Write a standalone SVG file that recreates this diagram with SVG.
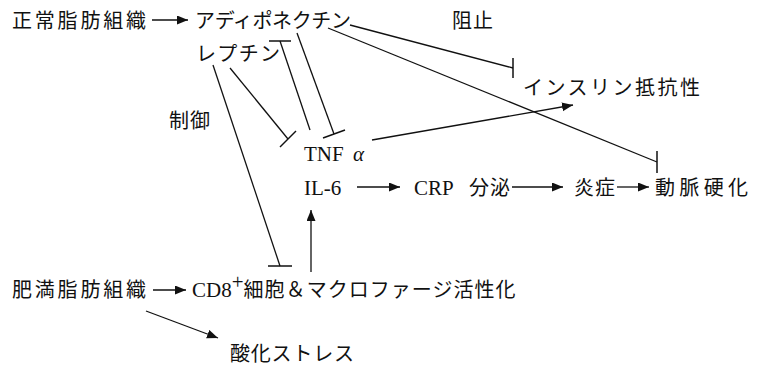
<svg xmlns="http://www.w3.org/2000/svg" width="760" height="372" viewBox="0 0 760 372">
<defs>
<style>
text{font-family:"Noto Sans CJK JP","Noto Sans",sans-serif;font-size:20px;fill:#111}
.lat{font-family:"Liberation Serif","DejaVu Serif",serif;font-size:21px}
.ln{stroke:#111;stroke-width:1.3;fill:none}
.bar{stroke:#111;stroke-width:1.5;fill:none}
</style>
<marker id="arr" markerUnits="userSpaceOnUse" markerWidth="12" markerHeight="10" refX="11" refY="4.5" orient="auto">
<path d="M0,0 L11,4.5 L0,9 z" fill="#111"/>
</marker>
</defs>
<rect width="760" height="372" fill="#fff"/>
<g id="seijo"><text x="12" y="28" textLength="134" lengthAdjust="spacing">正常脂肪組織</text></g>
<g id="adiponectin"><text x="195" y="28" textLength="156" lengthAdjust="spacing">アディポネクチン</text></g>
<g id="soshi"><text x="452" y="28" textLength="41" lengthAdjust="spacing">阻止</text></g>
<g id="leptin"><text x="196" y="61" textLength="84" lengthAdjust="spacing">レプチン</text></g>
<g id="insulin"><text x="523" y="95" textLength="177" lengthAdjust="spacing">インスリン抵抗性</text></g>
<g id="seigyo"><text x="169" y="128" textLength="41" lengthAdjust="spacing">制御</text></g>
<g id="tnf"><text x="304" y="161"><tspan class="lat">TNF</tspan><tspan class="lat" x="353" font-style="italic" font-size="22">α</tspan></text></g>
<g id="il6"><text x="304" y="195" class="lat">IL-6</text></g>
<g id="crp"><text x="414" y="195"><tspan class="lat" font-size="22">CRP</tspan><tspan x="469" textLength="41" lengthAdjust="spacing">分泌</tspan></text></g>
<g id="ensho"><text x="574" y="195" textLength="41" lengthAdjust="spacing">炎症</text></g>
<g id="domyaku"><text x="655" y="195" textLength="93" lengthAdjust="spacing">動脈硬化</text></g>
<g id="himan"><text x="12" y="297" textLength="134" lengthAdjust="spacing">肥満脂肪組織</text></g>
<g id="cd8"><text x="192" y="297"><tspan class="lat" font-size="22">CD8</tspan><tspan class="lat" font-size="13" dy="-8">+</tspan><tspan dy="8" textLength="272" lengthAdjust="spacing">細胞＆マクロファージ活性化</tspan></text></g>
<g id="sanka"><text x="230" y="361" textLength="124" lengthAdjust="spacing">酸化ストレス</text></g>
<g id="connectors">
<line class="ln" x1="152" y1="20" x2="188" y2="20" marker-end="url(#arr)"/>
<line class="ln" x1="357" y1="187" x2="400" y2="187" marker-end="url(#arr)"/>
<line class="ln" x1="512" y1="187" x2="563" y2="187" marker-end="url(#arr)"/>
<line class="ln" x1="617" y1="187" x2="649" y2="187" marker-end="url(#arr)"/>
<line class="ln" x1="153" y1="290" x2="186" y2="290" marker-end="url(#arr)"/>
<line class="ln" x1="311" y1="272" x2="311" y2="210" marker-end="url(#arr)"/>
<line class="ln" x1="372" y1="140" x2="573" y2="105" marker-end="url(#arr)"/>
<line class="ln" x1="146" y1="311" x2="218" y2="338" marker-end="url(#arr)"/>
<line class="ln" x1="350" y1="25" x2="513" y2="68"/>
<line class="bar" x1="513" y1="58" x2="513" y2="78"/>
<line class="ln" x1="328" y1="28" x2="657" y2="162"/>
<line class="bar" x1="657" y1="151" x2="657" y2="173"/>
<line class="ln" x1="230" y1="68" x2="288" y2="139"/>
<line class="bar" x1="280" y1="147" x2="296" y2="131"/>
<line class="ln" x1="310" y1="130" x2="280" y2="41"/>
<line class="bar" x1="269" y1="41" x2="291" y2="41"/>
<line class="ln" x1="297" y1="33" x2="334" y2="134"/>
<line class="bar" x1="323" y1="138" x2="345" y2="130"/>
<line class="ln" x1="213" y1="65" x2="280" y2="266"/>
<line class="bar" x1="268" y1="266" x2="292" y2="266"/>
</g>
</svg>
